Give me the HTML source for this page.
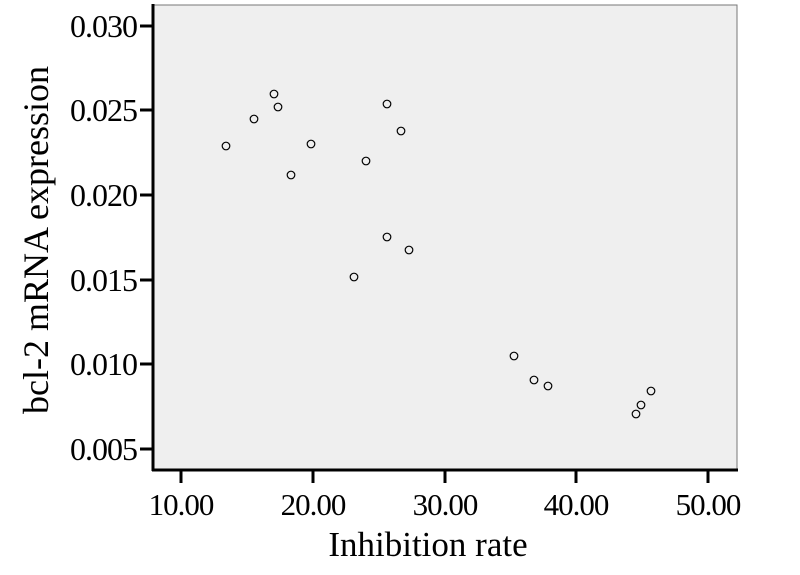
<!DOCTYPE html>
<html><head><style>body{margin:0;background:#fff}</style></head><body>
<svg width="800" height="570" xmlns="http://www.w3.org/2000/svg" font-family="Liberation Serif, serif">
<rect x="153" y="5" width="584" height="465" fill="#efefef" stroke="#777" stroke-width="1"/>
<line x1="153" y1="4" x2="153" y2="471" stroke="#000" stroke-width="3"/>
<line x1="152" y1="470" x2="738" y2="470" stroke="#000" stroke-width="3"/>
<g stroke="#000" stroke-width="3">
<line x1="140" y1="26" x2="153" y2="26"/><line x1="140" y1="110" x2="153" y2="110"/>
<line x1="140" y1="195" x2="153" y2="195"/><line x1="140" y1="280" x2="153" y2="280"/>
<line x1="140" y1="364" x2="153" y2="364"/><line x1="140" y1="449" x2="153" y2="449"/>
<line x1="181" y1="470" x2="181" y2="483"/><line x1="313" y1="470" x2="313" y2="483"/>
<line x1="445" y1="470" x2="445" y2="483"/><line x1="576" y1="470" x2="576" y2="483"/>
<line x1="708" y1="470" x2="708" y2="483"/>
</g>
<g font-size="32" text-anchor="end" letter-spacing="-1">
<text x="137" y="37">0.030</text><text x="137" y="121">0.025</text>
<text x="137" y="206">0.020</text><text x="137" y="291">0.015</text>
<text x="137" y="375">0.010</text><text x="137" y="460">0.005</text>
</g>
<g font-size="31" text-anchor="middle" letter-spacing="-1">
<text x="181" y="515">10.00</text><text x="313" y="515">20.00</text>
<text x="445" y="515">30.00</text><text x="576" y="515">40.00</text>
<text x="708" y="515">50.00</text>
</g>
<text x="428" y="556" font-size="35" text-anchor="middle">Inhibition rate</text>
<text transform="translate(48,240) rotate(-90)" font-size="36" text-anchor="middle">bcl-2 mRNA expression</text>
<g fill="none" stroke="#000" stroke-width="1.2">
<circle cx="226" cy="146" r="3.8"/><circle cx="254" cy="119" r="3.8"/>
<circle cx="274" cy="94" r="3.8"/><circle cx="278" cy="107" r="3.8"/>
<circle cx="291" cy="175" r="3.8"/><circle cx="311" cy="144" r="3.8"/>
<circle cx="366" cy="161" r="3.8"/><circle cx="387" cy="104" r="3.8"/>
<circle cx="401" cy="131" r="3.8"/><circle cx="387" cy="237" r="3.8"/>
<circle cx="409" cy="250" r="3.8"/><circle cx="354" cy="277" r="3.8"/>
<circle cx="514" cy="356" r="3.8"/><circle cx="534" cy="380" r="3.8"/>
<circle cx="548" cy="386" r="3.8"/><circle cx="636" cy="414" r="3.8"/>
<circle cx="641" cy="405" r="3.8"/><circle cx="651" cy="391" r="3.8"/>
</g>
</svg>
</body></html>
